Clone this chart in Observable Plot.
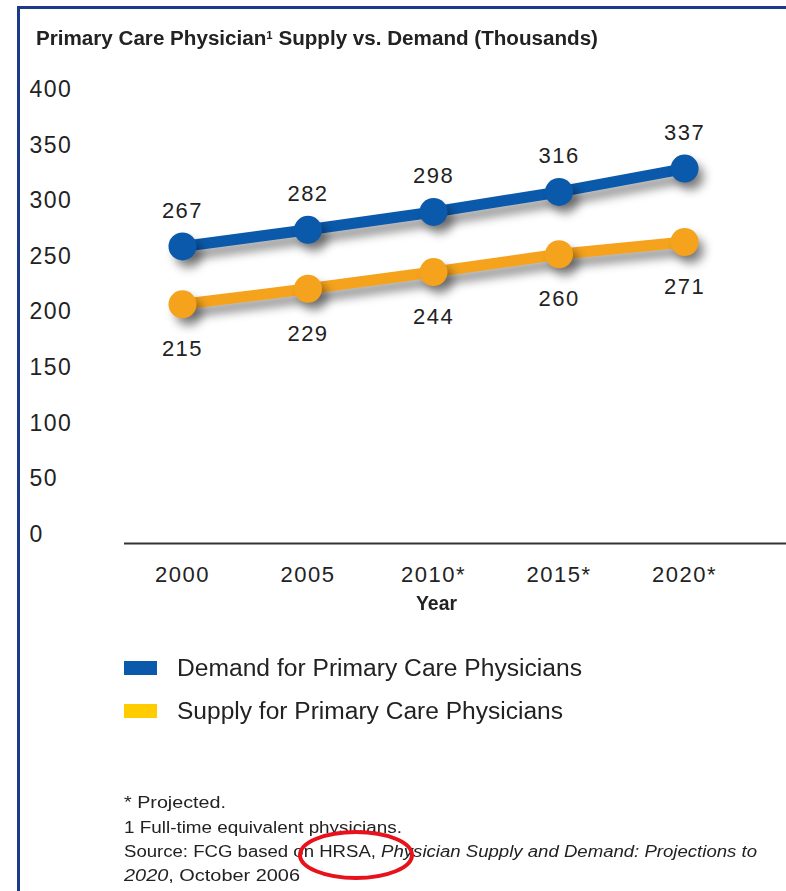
<!DOCTYPE html>
<html><head><meta charset="utf-8">
<script src="https://cdn.jsdelivr.net/npm/d3@7"></script>
<script src="https://cdn.jsdelivr.net/npm/@observablehq/plot@0.6"></script>
<style>
body{margin:0;background:#fff;}
#page{position:relative;width:786px;height:891px;overflow:hidden;font-family:"Liberation Sans",Arial,sans-serif;color:#222;}
#frame{position:absolute;left:17px;top:6px;right:-10px;bottom:-10px;border-left:3px solid #1c3a87;border-top:3px solid #1c3a87;}
#chart{position:absolute;left:0;top:0;}
.abs{position:absolute;white-space:nowrap;transform-origin:0 50%;line-height:20px;height:20px;}
.cond{font-family:"Liberation Sans Narrow","Liberation Sans",Arial,sans-serif;font-weight:bold;}
.sw{position:absolute;width:33px;height:14px;}
#note{position:absolute;left:0;top:0;pointer-events:none;}
</style></head>
<body>
<div id="page">
  <div id="frame"></div>
  <div id="chart"></div>
  <div id="title" class="abs cond" style="left:36px;top:25px;font-size:20px;">Primary Care Physician<sup style="font-size:11px;vertical-align:6px;">1</sup> Supply vs. Demand (Thousands)</div>
  <div id="xlabel" class="abs cond" style="left:416px;top:593px;font-size:21px;">Year</div>
  <div id="legend"></div>
  <div id="foot"></div>
  <svg id="note" width="786" height="891"><ellipse cx="356" cy="855" rx="56" ry="23" fill="none" stroke="#e8121c" stroke-width="4"/></svg>
</div>
<script>
// ---- data ----
const years = [2000, 2005, 2010, 2015, 2020];
const yearLabels = ["2000", "2005", "2010*", "2015*", "2020*"];
const demand = [267, 282, 298, 316, 337];
const supply = [215, 229, 244, 260, 271];
const yTicks = [0, 50, 100, 150, 200, 250, 300, 350, 400];
const seriesNames = ["Demand for Primary Care Physicians", "Supply for Primary Care Physicians"];
const lineColors = ["#0a59ab", "#f5a31d"];
const legendColors = ["#0a59ab", "#ffcc00"];
const footnotes = ["* Projected.", "1 Full-time equivalent physicians.",
  "Source: FCG based on HRSA, <i>Physician Supply and Demand: Projections to</i>",
  "<i>2020</i>, October 2006"];

const data = [];
years.forEach((y, i) => {
  data.push({year: y, value: demand[i], series: seriesNames[0]});
  data.push({year: y, value: supply[i], series: seriesNames[1]});
});
const dem = data.filter(d => d.series === seriesNames[0]);
const sup = data.filter(d => d.series === seriesNames[1]);
const labelOf = new Map(years.map((y, i) => [y, yearLabels[i]]));

const W = 786, H = 600;
const plot = Plot.plot({
  width: W, height: H,
  marginLeft: 124, marginRight: 0, marginTop: 98, marginBottom: H - 543,
  style: {fontFamily: '"Liberation Sans", Arial, sans-serif', color: "#222", background: "transparent", overflow: "visible"},
  x: {type: "linear", domain: [1997.69, 2024.06]},
  y: {domain: [0, 400]},
  color: {domain: seriesNames, range: lineColors},
  marks: [
    Plot.axisY({ticks: yTicks, tickSize: 0, tickPadding: 0, textAnchor: "start", dx: -95, dy: -9, fontSize: 23, label: null}),
    Plot.axisX({ticks: years, tickFormat: d => labelOf.get(d), tickSize: 0, tickPadding: 23, fontSize: 22, label: null}),
    Plot.ruleY([0], {stroke: "#333", strokeWidth: 2}),
    Plot.line(data, {x: "year", y: "value", z: "series", stroke: "series", strokeWidth: 11}),
    Plot.dot(data, {x: "year", y: "value", fill: "series", r: 14}),
    Plot.text(dem, {x: "year", y: "value", text: d => String(d.value), dy: -36, fontSize: 22, fill: "#222"}),
    Plot.text(sup, {x: "year", y: "value", text: d => String(d.value), dy: 45, fontSize: 22, fill: "#222"})
  ]
});
document.getElementById("chart").appendChild(plot);
plot.querySelectorAll('g[aria-label="line"], g[aria-label="dot"]').forEach(g => {
  g.style.filter = "drop-shadow(6px 8px 5px rgba(0,0,0,0.4))";
});
plot.querySelectorAll('g[aria-label="y-axis tick label"] text, g[aria-label="x-axis tick label"] text, g[aria-label="text"] text').forEach(t => {
  t.style.letterSpacing = "1.5px";
});

// legend
const legend = document.getElementById("legend");
const legendTop = [661, 704];
const legendW = [405, 386];
seriesNames.forEach((name, i) => {
  const sw = document.createElement("div");
  sw.className = "sw";
  sw.style.left = "124px"; sw.style.top = legendTop[i] + "px";
  sw.style.background = legendColors[i];
  legend.appendChild(sw);
  const t = document.createElement("div");
  t.className = "abs";
  t.style.left = "177px"; t.style.top = (legendTop[i] - 4) + "px";
  t.style.fontSize = "23px"; t.style.lineHeight = "22px"; t.style.height = "22px";
  t.textContent = name;
  t.dataset.w = legendW[i];
  legend.appendChild(t);
});

// footnotes
const foot = document.getElementById("foot");
const footTop = [793, 818, 842, 866];
const footW = [102, 278, 633, 176];
footnotes.forEach((s, i) => {
  const t = document.createElement("div");
  t.className = "abs";
  t.style.left = "124px"; t.style.top = footTop[i] + "px";
  t.style.fontSize = "16px";
  t.innerHTML = s;
  t.dataset.w = footW[i];
  foot.appendChild(t);
});

function fit(el, target) {
  const w = el.getBoundingClientRect().width;
  if (w > 0) el.style.transform = `scaleX(${target / w})`;
}
fit(document.getElementById("title"), 562);
fit(document.getElementById("xlabel"), 41);
document.querySelectorAll("#legend .abs, #foot .abs").forEach(el => fit(el, +el.dataset.w));
</script>
</body></html>
